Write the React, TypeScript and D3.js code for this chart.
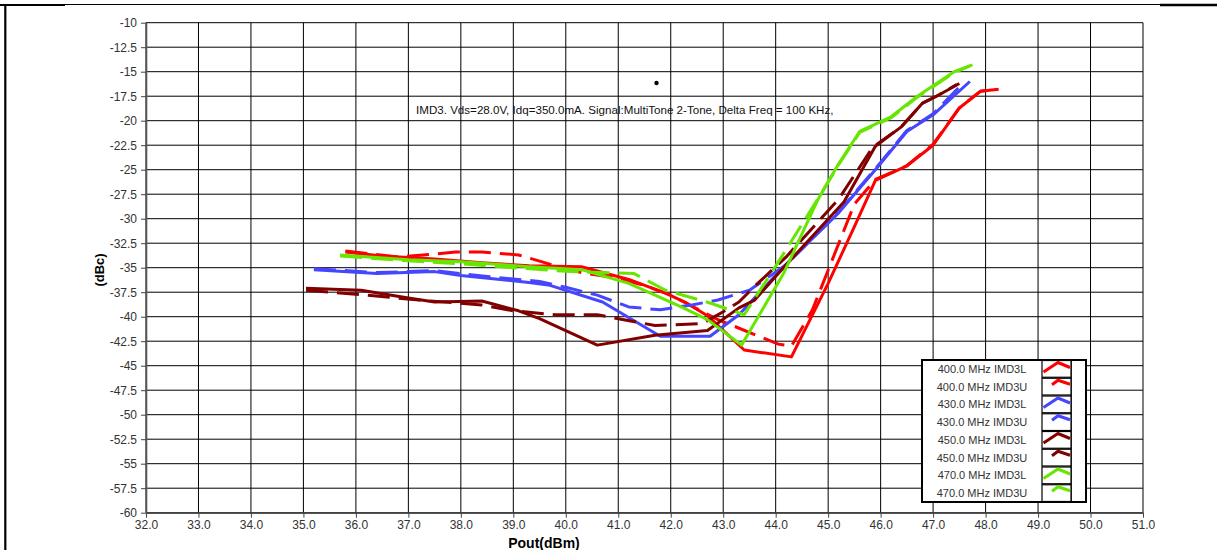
import { useEffect, useRef } from "react"
import * as d3 from "d3"

// Pout (dBm) tick values and dBc tick values
const xTicks = [32, 33, 34, 35, 36, 37, 38, 39, 40, 41, 42, 43, 44, 45, 46, 47, 48, 49, 50, 51]
const yTicks = [-10, -12.5, -15, -17.5, -20, -22.5, -25, -27.5, -30, -32.5, -35, -37.5, -40, -42.5, -45, -47.5, -50, -52.5, -55, -57.5, -60]

// [Pout, dBc]
const imd3L400 = [[35.8,-33.4],[36.5,-33.8],[37.5,-34.1],[38.4,-34.5],[39.3,-34.8],[40.3,-34.9],[41.2,-36.2],[41.9,-37.6],[42.3,-38.6],[42.7,-39.9],[43.4,-43.4],[44.3,-44.1],[45.0,-36.6],[45.5,-30.8],[45.9,-26.1],[46.5,-24.6],[47.0,-22.5],[47.5,-18.7],[47.9,-17.0],[48.25,-16.8]]
const imd3U400 = [[35.8,-33.3],[36.8,-33.9],[37.5,-33.6],[37.9,-33.4],[38.4,-33.4],[39.1,-33.7],[39.8,-34.8],[40.3,-35.5],[40.9,-36.0],[41.5,-36.8],[42.0,-37.8],[42.5,-39.2],[42.9,-40.3],[44.05,-42.8],[44.3,-43.0],[44.7,-39.3],[45.5,-28.5],[45.9,-26.0],[46.5,-24.6],[47.0,-22.4],[47.5,-18.7],[47.9,-17.0],[48.2,-16.8]]
const imd3L430 = [[35.2,-35.2],[36.4,-35.6],[37.5,-35.4],[38.0,-35.8],[39.3,-36.5],[39.7,-36.8],[40.7,-38.5],[41.8,-42.0],[42.75,-42.0],[43.3,-39.8],[44.15,-34.9],[45.2,-29.4],[45.9,-25.0],[46.5,-21.1],[47.0,-19.4],[47.7,-16.0]]
const imd3U430 = [[35.2,-35.1],[36.4,-35.5],[37.5,-35.3],[38.5,-35.9],[39.5,-36.4],[40.0,-37.0],[40.6,-37.8],[41.2,-39.0],[41.8,-39.3],[42.4,-38.8],[42.9,-38.3],[43.5,-37.3],[44.2,-34.7],[45.2,-29.3],[45.9,-24.9],[46.5,-21.0],[47.0,-19.3],[47.6,-16.0]]
const imd3L450 = [[35.05,-37.1],[36.1,-37.3],[37.0,-38.1],[37.5,-38.5],[38.4,-38.4],[39.1,-39.4],[39.5,-40.2],[40.6,-42.9],[41.7,-41.9],[42.7,-41.4],[43.3,-39.1],[43.6,-38.3],[44.2,-34.7],[45.3,-28.3],[45.9,-22.6],[46.4,-20.6],[46.8,-18.2],[47.1,-17.4],[47.5,-16.2]]
const imd3U450 = [[35.05,-37.3],[36.2,-37.8],[37.2,-38.3],[38.4,-38.8],[39.0,-39.4],[39.8,-39.8],[40.6,-39.8],[41.7,-40.9],[42.6,-40.7],[43.0,-39.5],[43.3,-38.5],[43.6,-36.9],[44.2,-33.9],[45.2,-28.0],[45.85,-22.7],[46.4,-20.6],[46.8,-18.2],[47.1,-17.4],[47.45,-16.3]]
const imd3L470 = [[35.7,-33.7],[37.0,-34.2],[38.0,-34.4],[39.3,-34.9],[40.3,-35.2],[41.2,-36.6],[42.2,-39.0],[42.7,-40.3],[43.35,-42.9],[44.15,-35.6],[44.8,-28.1],[45.2,-24.4],[45.6,-21.1],[46.2,-19.6],[46.7,-17.5],[47.4,-15.0],[47.75,-14.3]]
const imd3U470 = [[35.7,-33.8],[37.0,-34.3],[38.0,-34.6],[39.0,-35.0],[40.1,-35.4],[41.3,-35.6],[41.9,-37.3],[42.75,-38.6],[43.4,-39.8],[44.1,-34.0],[44.8,-28.0],[45.2,-24.5],[45.6,-21.2],[46.2,-19.7],[46.7,-17.6],[47.4,-15.1],[47.7,-14.4]]

const seriesNames = ["400.0 MHz IMD3L", "400.0 MHz IMD3U", "430.0 MHz IMD3L", "430.0 MHz IMD3U", "450.0 MHz IMD3L", "450.0 MHz IMD3U", "470.0 MHz IMD3L", "470.0 MHz IMD3U"]
const seriesData = [imd3L400, imd3U400, imd3L430, imd3U430, imd3L450, imd3U450, imd3L470, imd3U470]
const seriesColors = ["#ff0000", "#ff0000", "#4646ff", "#4646ff", "#800000", "#800000", "#66e600", "#66e600"]

const note = "IMD3. Vds=28.0V, Idq=350.0mA. Signal:MultiTone 2-Tone, Delta Freq = 100 KHz,"

export default function App() {
    const svgRef = useRef<SVGSVGElement>(null)

    useEffect(() => {
        const width = 1217, height = 550
        const left = 146, right = 1143, top = 22.7, bottom = 512.7
        const font = "'Liberation Sans', Arial, sans-serif"

        const svg = d3.select(svgRef.current)
        svg.selectAll("*").remove()
        svg.attr("width", width).attr("height", height)

        svg.append("rect").attr("width", width).attr("height", height).attr("fill", "#fff")

        // page frame
        svg.append("line").attr("x1", 0).attr("x2", 1160).attr("y1", 4.5).attr("y2", 4.5).attr("stroke", "#000")
        svg.append("line").attr("x1", 0).attr("x2", 65).attr("y1", 5).attr("y2", 5).attr("stroke", "#000").attr("stroke-width", 2)
        svg.append("line").attr("x1", 1160).attr("x2", 1217).attr("y1", 5).attr("y2", 5).attr("stroke", "#000").attr("stroke-width", 2.5)
        svg.append("line").attr("x1", 5.3).attr("x2", 5.3).attr("y1", 4).attr("y2", height).attr("stroke", "#000").attr("stroke-width", 2.2)

        const x = d3.scaleLinear().domain([32, 51]).range([left, right])
        const y = d3.scaleLinear().domain([-10, -60]).range([top, bottom])

        // grid
        const grid = svg.append("g").attr("stroke", "#000").attr("stroke-width", 1)
        grid.selectAll(".vx").data(xTicks).join("line")
            .attr("x1", d => x(d)).attr("x2", d => x(d)).attr("y1", top).attr("y2", bottom)
        grid.selectAll(".hy").data(yTicks).join("line")
            .attr("x1", left).attr("x2", right).attr("y1", d => y(d)).attr("y2", d => y(d))

        // axes
        const yAxis = svg.append("g")
            .attr("transform", `translate(${left},0)`)
            .call(d3.axisLeft(y).tickValues(yTicks).tickSize(5).tickSizeOuter(0).tickPadding(4).tickFormat(d => String(d)))
        const xAxis = svg.append("g")
            .attr("transform", `translate(0,${bottom})`)
            .call(d3.axisBottom(x).tickValues(xTicks).tickSize(5).tickSizeOuter(0).tickPadding(3).tickFormat(d => (d as number).toFixed(1)))
        for (const ax of [xAxis, yAxis]) {
            ax.select(".domain").attr("stroke", "#555").attr("stroke-width", 1.6)
            ax.selectAll(".tick line").attr("stroke", "#444")
            ax.selectAll("text").attr("fill", "#333").style("font-family", font).style("font-size", "12px")
        }

        // axis titles
        svg.append("text")
            .attr("transform", `translate(104,270) rotate(-90)`)
            .attr("text-anchor", "middle")
            .style("font-family", font).style("font-size", "13px").style("font-weight", "bold")
            .text("(dBc)")
        svg.append("text")
            .attr("x", 544).attr("y", 548)
            .attr("text-anchor", "middle")
            .style("font-family", font).style("font-size", "14px").style("font-weight", "bold")
            .text("Pout(dBm)")

        // annotation
        svg.append("text")
            .attr("x", 416).attr("y", 114)
            .attr("fill", "#111")
            .style("font-family", font).style("font-size", "11.6px")
            .text(note)
        svg.append("circle").attr("cx", 656.5).attr("cy", 83).attr("r", 2.2).attr("fill", "#000")

        // curves
        svg.append("clipPath").attr("id", "plotclip")
            .append("rect").attr("x", left).attr("y", top).attr("width", right - left).attr("height", bottom - top)
        const line = d3.line<number[]>().x(d => x(d[0])).y(d => y(d[1]))
        svg.append("g").attr("clip-path", "url(#plotclip)")
            .selectAll("path")
            .data(seriesData)
            .join("path")
                .attr("d", d => line(d))
                .attr("fill", "none")
                .attr("stroke", (d, i) => seriesColors[i])
                .attr("stroke-width", 3)
                .attr("stroke-linejoin", "round")
                .attr("stroke-dasharray", (d, i) => i % 2 ? "22,9" : null)

        // legend
        const lx = 922, ly = 360, rowH = 17.75, textW = 120, swW = 29, extraW = 15
        const legend = svg.append("g")
        legend.append("rect")
            .attr("x", lx).attr("y", ly).attr("width", textW + swW + extraW).attr("height", rowH * seriesNames.length)
            .attr("fill", "#fff").attr("stroke", "#000").attr("stroke-width", 2)
        legend.append("line")
            .attr("x1", lx + textW + swW).attr("x2", lx + textW + swW).attr("y1", ly).attr("y2", ly + rowH * seriesNames.length)
            .attr("stroke", "#000").attr("stroke-width", 1.5)
        seriesNames.forEach((name, i) => {
            const ry = ly + i * rowH
            legend.append("rect")
                .attr("x", lx + textW).attr("y", ry + 0.5).attr("width", swW).attr("height", rowH - 1)
                .attr("fill", "#fff").attr("stroke", "#000").attr("stroke-width", 1.2)
            legend.append("text")
                .attr("x", lx + textW / 2).attr("y", ry + rowH / 2 + 4)
                .attr("text-anchor", "middle")
                .attr("fill", "#333")
                .style("font-family", font).style("font-size", "11px")
                .text(name)
            const sx = lx + textW
            const pts = i % 2
                ? [[sx + 10, ry + 7], [sx + 16, ry + 2.5], [sx + 28, ry + 6.5]]
                : [[sx + 1.5, ry + 12], [sx + 16, ry + 2.5], [sx + 28, ry + 7.5]]
            legend.append("path")
                .attr("d", d3.line()(pts as [number, number][]))
                .attr("fill", "none")
                .attr("stroke", seriesColors[i])
                .attr("stroke-width", 3)
        })
    }, [])

    return (
        <svg ref={svgRef} style={{ position: "absolute", left: 0, top: 0, display: "block" }}></svg>
    )
}
